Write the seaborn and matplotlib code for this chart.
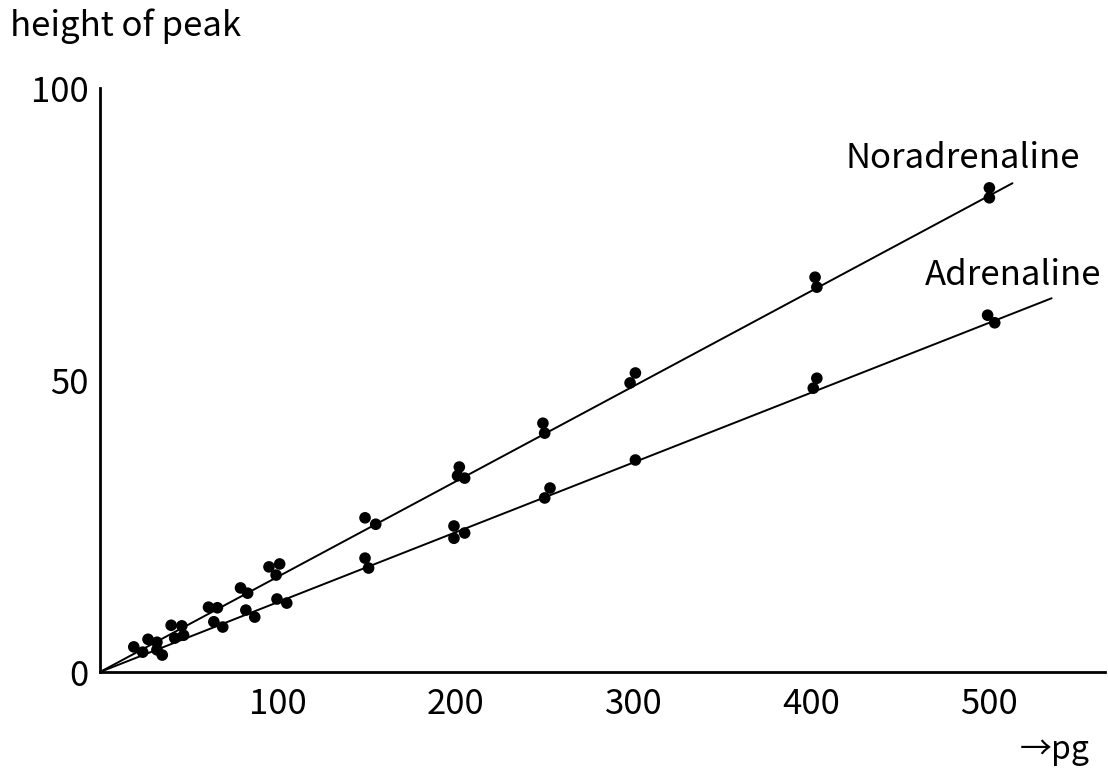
import matplotlib
matplotlib.use("Agg")
import matplotlib.pyplot as plt
import seaborn as sns
import pandas as pd
from matplotlib import font_manager

# ---- data ----
nor_x = [19, 24, 27, 32, 40, 46, 61, 66, 79, 83, 95, 101, 99, 149, 155,
         202, 201, 205, 249, 250, 301, 298, 402, 403, 500, 500]
nor_y = [4.3, 3.4, 5.6, 5.1, 8.0, 7.9, 11.1, 11.0, 14.4, 13.5, 18.0, 18.5, 16.6,
         26.4, 25.3, 35.1, 33.6, 33.2, 42.6, 40.9, 51.2, 49.5, 67.6, 65.9, 82.9, 81.2]
adr_x = [32, 35, 42, 47, 64, 69, 82, 87, 99.5, 105, 149, 151, 199, 199, 205,
         253, 250, 301, 403, 401, 499, 503]
adr_y = [3.8, 2.9, 5.8, 6.3, 8.6, 7.7, 10.6, 9.4, 12.5, 11.8, 19.5, 17.8,
         25.0, 22.9, 23.8, 31.5, 29.8, 36.3, 50.3, 48.6, 61.1, 59.8]
nor_line_x = [0, 513]
nor_line_y = [0, 83.7]
adr_line_x = [0, 535]
adr_line_y = [0, 64.0]
x_ticks = [100, 200, 300, 400, 500]
y_ticks = [0, 50, 100]

sns.set_theme(style="white")
names = {f.name for f in font_manager.fontManager.ttflist}
main_font = "Noto Sans CJK JP" if "Noto Sans CJK JP" in names else "DejaVu Sans"
tick_font = "Liberation Sans Narrow" if "Liberation Sans Narrow" in names else main_font
plt.rcParams["font.family"] = [main_font, "DejaVu Sans"]

fig = plt.figure(figsize=(11.08, 7.68), dpi=100)
ax = fig.add_axes([100 / 1108, 96 / 768, 1005 / 1108, 584 / 768])

df_pts = pd.concat([
    pd.DataFrame({"pg": nor_x, "h": nor_y, "s": "Noradrenaline"}),
    pd.DataFrame({"pg": adr_x, "h": adr_y, "s": "Adrenaline"}),
])
df_lines = pd.concat([
    pd.DataFrame({"pg": nor_line_x, "h": nor_line_y, "s": "Noradrenaline"}),
    pd.DataFrame({"pg": adr_line_x, "h": adr_line_y, "s": "Adrenaline"}),
])

sns.lineplot(data=df_lines, x="pg", y="h", units="s", estimator=None,
             color="black", lw=1.4, ax=ax, legend=False, clip_on=False)
sns.scatterplot(data=df_pts, x="pg", y="h", color="black", s=70,
                edgecolor="none", ax=ax, legend=False, clip_on=False)

ax.set_xlim(0, 565)
ax.set_ylim(0, 100)
for side in ["top", "right"]:
    ax.spines[side].set_visible(False)
for side in ["left", "bottom"]:
    ax.spines[side].set_color("black")
    ax.spines[side].set_linewidth(2)

ax.set_xticks(x_ticks)
ax.set_xticklabels([str(t) for t in x_ticks], family=tick_font, fontsize=25)
ax.set_yticks(y_ticks)
ax.set_yticklabels([str(t) for t in y_ticks], family=tick_font, fontsize=25)
ax.tick_params(axis="both", direction="inout", length=14, width=1.5,
               color="black", labelcolor="black")
ax.tick_params(axis="x", pad=4)
ax.tick_params(axis="y", pad=1)
ax.set_xlabel("")
ax.set_ylabel("")

ax.text(419, 86.3, "Noradrenaline", fontsize=25, color="black", ha="left", va="baseline")
ax.text(464, 66.3, "Adrenaline", fontsize=25, color="black", ha="left", va="baseline")

fig.text(10 / 1108, 1 - 26 / 768, "height of peak", fontsize=25, color="black",
         ha="left", va="center")
fig.text(1020 / 1108, 1 - 750 / 768, "→pg", fontsize=23, color="black",
         ha="left", va="center", family=[tick_font, "DejaVu Sans"])

fig.savefig("out.png", dpi=100)
